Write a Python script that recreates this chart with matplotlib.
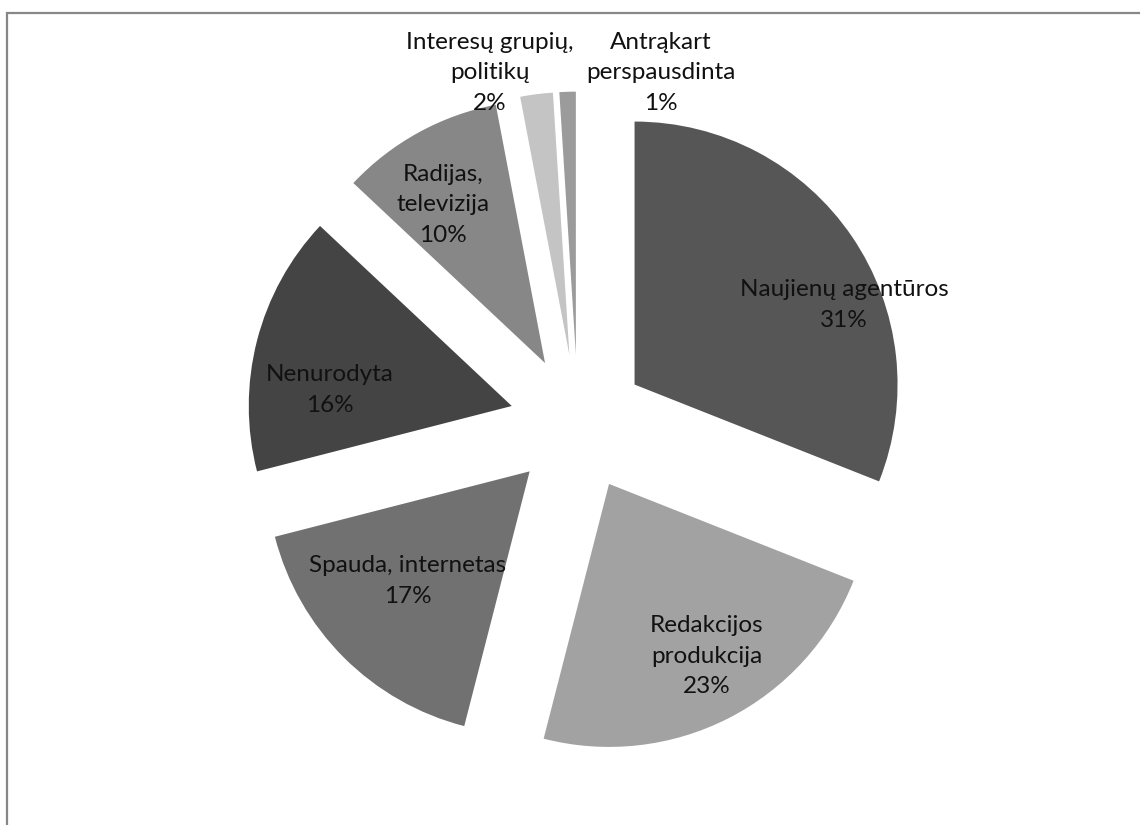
import matplotlib
matplotlib.use("Agg")
import matplotlib.pyplot as plt
from matplotlib.patches import Rectangle

labels = ["Naujienų agentūros", "Redakcijos\nprodukcija", "Spauda, internetas",
          "Nenurodyta", "Radijas,\ntelevizija", "Interesų grupių,\npolitikų",
          "Antrąkart\nperspausdinta"]
shares = [31, 23, 17, 16, 10, 2, 1]
colors = ["#565656", "#a2a2a2", "#717171", "#444444", "#878787", "#c4c4c4", "#9b9b9b"]

# label block centres, in units of the pie radius
label_xy = [(1.011, 0.449), (0.490, -0.886), (-0.647, -0.601), (-0.943, 0.125),
            (-0.514, 0.829), (-0.335, 1.331), (0.315, 1.331)]

W, H = 1140, 825
cx, cy, R = 578, 423, 263

fig = plt.figure(figsize=(W / 100, H / 100), dpi=100)
ax = fig.add_axes([0, 0, 1, 1])
ax.pie(shares, colors=colors, startangle=90, counterclock=False,
       explode=[0.26] * len(shares), radius=1,
       wedgeprops=dict(linewidth=0))
ax.set_xlim(-cx / R, (W - cx) / R)
ax.set_ylim(-(H - cy) / R, cy / R)
ax.set_aspect("equal")
ax.axis("off")

for lab, v, (x, y) in zip(labels, shares, label_xy):
    ax.text(x, y, f"{lab}\n{v}%", ha="center", va="center", fontsize=17.5,
            family=["Lato", "DejaVu Sans"], color="#111111", linespacing=1.55)

# chart frame, cut by the right and bottom image edges
fig.patches.append(Rectangle((7 / W, -0.1), 1.1, (H - 13) / H + 0.1,
                             transform=fig.transFigure, fill=False,
                             edgecolor="#878787", linewidth=1.6))

fig.savefig("out.png", dpi=100)
